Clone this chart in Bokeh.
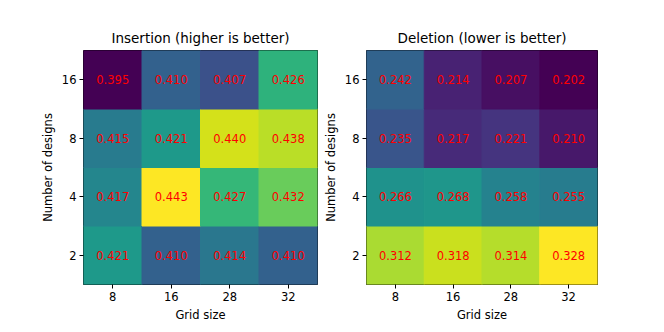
from bokeh.plotting import figure
from bokeh.layouts import row
from bokeh.models import LinearColorMapper, ColumnDataSource
from bokeh.palettes import Viridis256
from bokeh.embed import file_html
from bokeh.resources import INLINE
from bokeh.core.properties import value

grid_sizes = ["8", "16", "28", "32"]
num_designs = ["2", "4", "8", "16"]

# rows: designs 2, 4, 8, 16; columns: grid 8, 16, 28, 32
insertion = [
    [0.421, 0.410, 0.414, 0.410],
    [0.417, 0.443, 0.427, 0.432],
    [0.415, 0.421, 0.440, 0.438],
    [0.395, 0.410, 0.407, 0.426],
]
deletion = [
    [0.312, 0.318, 0.314, 0.328],
    [0.266, 0.268, 0.258, 0.255],
    [0.235, 0.217, 0.221, 0.210],
    [0.242, 0.214, 0.207, 0.202],
]

FONT = "DejaVu Sans"


def make(title, data, border_left, border_right, width):
    xs, ys, vals, labels = [], [], [], []
    for i, d in enumerate(num_designs):
        for j, g in enumerate(grid_sizes):
            xs.append(g)
            ys.append(d)
            vals.append(data[i][j])
            labels.append(f"{data[i][j]:.3f}")
    flat = [v for r in data for v in r]
    mapper = LinearColorMapper(palette=Viridis256, low=min(flat), high=max(flat))
    src = ColumnDataSource(dict(x=xs, y=ys, v=vals, t=labels))
    p = figure(x_range=grid_sizes, y_range=num_designs, width=width, height=324,
               output_backend="svg", toolbar_location=None,
               min_border_left=border_left, min_border_right=border_right,
               min_border_top=50, min_border_bottom=40, title=title)
    p.rect("x", "y", 1, 1, source=src, fill_color={"field": "v", "transform": mapper},
           line_color={"field": "v", "transform": mapper}, line_width=1)
    p.text("x", "y", text="t", source=src, text_color="#ff0000", text_align="center",
           text_baseline="middle", text_font=value(FONT), text_font_size="11.5px")
    p.title.align = "center"
    p.title.text_font = FONT
    p.title.text_font_style = "normal"
    p.title.text_font_size = "13.5px"
    p.title.text_color = "black"
    p.xaxis.axis_label = "Grid size"
    p.yaxis.axis_label = "Number of designs"
    for ax in (p.xaxis, p.yaxis):
        ax.axis_label_text_font = FONT
        ax.axis_label_text_font_style = "normal"
        ax.axis_label_text_font_size = "11.5px"
        ax.axis_label_text_color = "black"
        ax.major_label_text_font = FONT
        ax.major_label_text_font_size = "11.5px"
        ax.major_label_text_color = "black"
        ax.major_tick_out = 4
        ax.major_tick_in = 0
        ax.axis_line_color = None
        ax.major_tick_line_color = "black"
        ax.axis_label_standoff = 4
        ax.major_label_standoff = 3
    p.yaxis.major_label_orientation = "horizontal"
    p.xgrid.grid_line_color = None
    p.ygrid.grid_line_color = None
    p.outline_line_color = "black"
    p.outline_line_width = 1
    p.background_fill_color = "white"
    p.border_fill_color = "white"
    return p


p1 = make("Insertion (higher is better)", insertion, 83, 3, 320)
p2 = make("Deletion (lower is better)", deletion, 43, 3, 280)
layout = row(p1, p2, spacing=0)

open("out.html", "w").write(file_html(layout, INLINE))
